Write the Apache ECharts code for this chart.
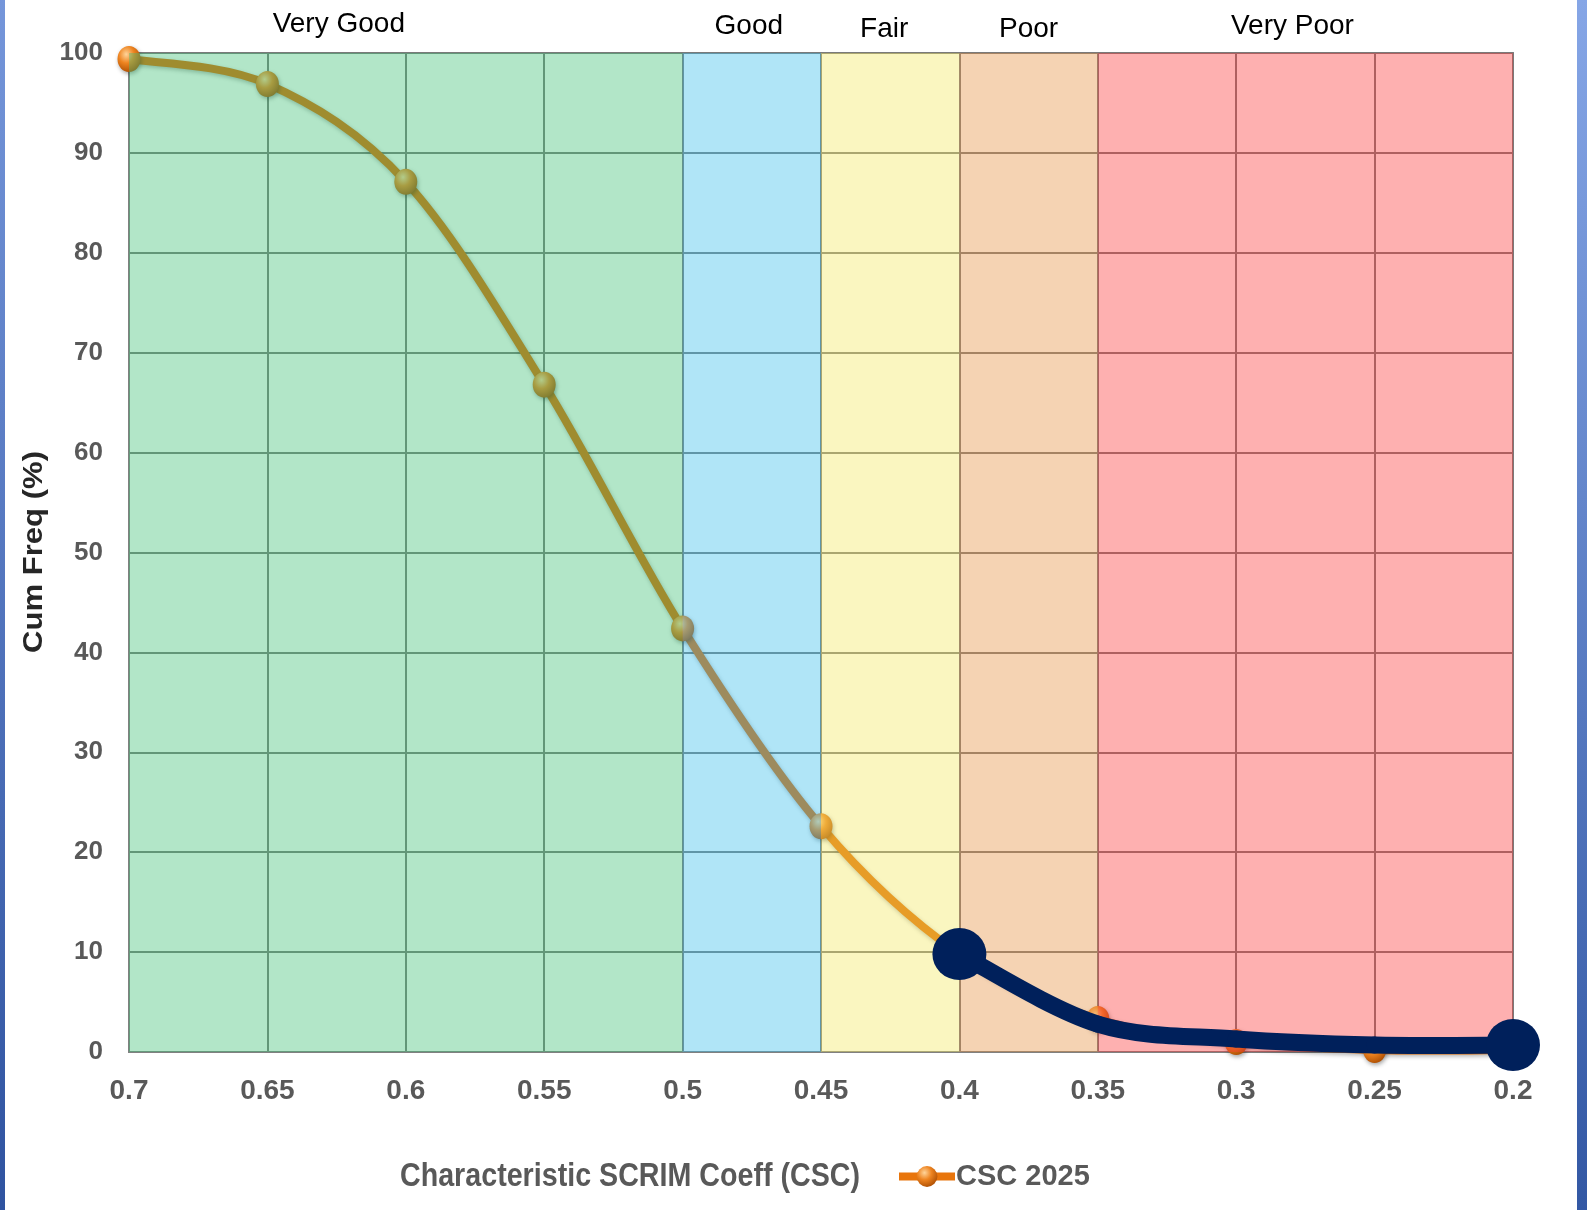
<!DOCTYPE html>
<html>
<head>
<meta charset="utf-8">
<script src="https://cdn.jsdelivr.net/npm/echarts@6/dist/echarts.min.js"></script>
<style>
html,body{margin:0;padding:0;background:#fff;}
#chart{width:1587px;height:1210px;}
</style>
</head>
<body>
<div id="chart"></div>
<script>
// ---- data ----
const csc = [0.7, 0.65, 0.6, 0.55, 0.5, 0.45, 0.4, 0.35, 0.3, 0.25, 0.2];
const cumFreq2025 = [99.4, 96.9, 87.1, 66.8, 42.4, 22.6, 9.8, 3.3, 1.0, 0.2, 0.2];
const highlightCsc = [0.4, 0.35, 0.3, 0.25, 0.2];
const highlightFreq = [9.8, 2.8, 1.3, 0.7, 0.7];
const bandNames = ['Very Good', 'Good', 'Fair', 'Poor', 'Very Poor'];
const bandEdges = [0.7, 0.5, 0.45, 0.4, 0.35, 0.2];
const yTicks = [0, 10, 20, 30, 40, 50, 60, 70, 80, 90, 100];
const seriesName = 'CSC 2025';
const xTitle = 'Characteristic SCRIM Coeff (CSC)';
const yTitle = 'Cum Freq (%)';

// ---- styling ----
const bandColors = ['rgba(62,192,117,0.4)', 'rgba(57,190,235,0.4)', 'rgba(242,232,97,0.4)', 'rgba(230,145,65,0.4)', 'rgba(252,57,57,0.4)'];
const bandLabelOffsets = [[-67, -3], [-3, -1], [-6, 2], [0, 2], [-13, -1]];
const lineColor = '#e06a00';
const navy = '#00205b';

const sphere = {
  type: 'radial', x: 0.38, y: 0.32, r: 0.75,
  colorStops: [
    { offset: 0, color: '#ffd49a' },
    { offset: 0.45, color: '#ee8420' },
    { offset: 1, color: '#a84a00' }
  ]
};

const mainData = csc.map((x, i) => [x, cumFreq2025[i]]);
const hlPoints = highlightCsc.map((x, i) => [x, highlightFreq[i]]);
const hlData = highlightCsc.map((x, i) => {
  const end = (i === 0 || i === highlightCsc.length - 1);
  return end ? { value: [x, highlightFreq[i]], symbol: 'circle', symbolSize: [54, 52] }
             : { value: [x, highlightFreq[i]], symbol: 'none' };
});

// smooth curve (Excel-like Catmull-Rom) through the data, positioned via the axes
function makeSmooth(xs, ys, style) {
  return function (params, api) {
    const i = params.dataIndex;
    const n = xs.length;
    if (i >= n - 1) return null;
    const P = k => { const j = Math.max(0, Math.min(n - 1, k)); return api.coord([xs[j], ys[j]]); };
    const p0 = P(i - 1), p1 = P(i), p2 = P(i + 1), p3 = P(i + 2);
    const t = 1 / 6;
    return {
      type: 'bezierCurve',
      shape: {
        x1: p1[0], y1: p1[1], x2: p2[0], y2: p2[1],
        cpx1: p1[0] + (p2[0] - p0[0]) * t, cpy1: p1[1] + (p2[1] - p0[1]) * t,
        cpx2: p2[0] - (p3[0] - p1[0]) * t, cpy2: p2[1] - (p3[1] - p1[1]) * t
      },
      style: Object.assign({ fill: null, lineCap: 'round' }, style)
    };
  };
}

const areas = bandNames.map((n, i) => [
  {
    name: n,
    xAxis: bandEdges[i],
    itemStyle: { color: bandColors[i] },
    label: {
      show: true, position: 'top', distance: 12,
      offset: bandLabelOffsets[i],
      color: '#000', fontSize: 28, fontFamily: 'Liberation Sans, Arial, sans-serif'
    }
  },
  { xAxis: bandEdges[i + 1] }
]);

// measure titles to compress/stretch them like the reference
const mc = document.createElement('canvas').getContext('2d');
const titleFont = 'bold 33px "Liberation Sans", Arial, sans-serif';
mc.font = titleFont;
const titleScale = 460 / mc.measureText(xTitle).width;
const yTitleFont = 'bold 28px "Liberation Sans", Arial, sans-serif';
mc.font = yTitleFont;
const yTitleScale = 202 / mc.measureText(yTitle).width;

const chart = echarts.init(document.getElementById('chart'), null, { renderer: 'canvas' });
chart.setOption({
  animation: false,
  backgroundColor: '#fff',
  grid: {
    left: 129, right: 74, top: 53, height: 999,
    show: true, borderColor: '#808080', borderWidth: 2, backgroundColor: 'transparent'
  },
  xAxis: {
    type: 'value', inverse: true, min: 0.2, max: 0.7, interval: 0.05,
    axisLine: { show: true, lineStyle: { color: '#808080', width: 2 } },
    axisTick: { show: false },
    splitLine: { show: true, lineStyle: { color: '#7a7a7a', width: 2 } },
    axisLabel: {
      margin: 25, color: '#595959', fontSize: 28, fontWeight: 'bold',
      fontFamily: 'Liberation Sans, Arial, sans-serif',
      formatter: v => String(+v.toFixed(2))
    }
  },
  yAxis: {
    type: 'value', min: yTicks[0], max: yTicks[yTicks.length - 1], interval: 10,
    axisLine: { show: true, lineStyle: { color: '#808080', width: 2 } },
    axisTick: { show: false },
    splitLine: { show: true, lineStyle: { color: '#7a7a7a', width: 2 } },
    axisLabel: {
      margin: 26, color: '#595959', fontSize: 26, fontWeight: 'bold',
      fontFamily: 'Liberation Sans, Arial, sans-serif'
    }
  },
  legend: {
    data: [seriesName],
    left: 890, top: 1157,
    itemWidth: 56, itemHeight: 26, itemGap: 10,
    lineStyle: { width: 8, color: '#e8750c', opacity: 1 },
    textStyle: { color: '#595959', fontSize: 29, fontWeight: 'bold', fontFamily: 'Liberation Sans, Arial, sans-serif', padding: [0, 0, 0, -4] }
  },
  graphic: [
    {
      type: 'rect', left: 0, top: 0, z: 100,
      shape: { width: 5, height: 1210 },
      style: { fill: new echarts.graphic.LinearGradient(0, 0, 0, 1, [{ offset: 0, color: '#7596da' }, { offset: 1, color: '#2f53a0' }]) }
    },
    {
      type: 'rect', left: 1577, top: 0, z: 100,
      shape: { width: 10, height: 1210 },
      style: { fill: new echarts.graphic.LinearGradient(0, 0, 0, 1, [{ offset: 0, color: '#86a6e6' }, { offset: 1, color: '#3358a4' }]) }
    },
    {
      type: 'text', x: 400, y: 1177, scaleX: titleScale, z: 100,
      style: { text: xTitle, font: titleFont, fill: '#595959', verticalAlign: 'middle', align: 'left' }
    },
    {
      type: 'text', x: 34, y: 552, rotation: Math.PI / 2, scaleX: yTitleScale, z: 100,
      style: { text: yTitle, font: yTitleFont, fill: '#262626', align: 'center', verticalAlign: 'middle' }
    }
  ],
  series: [
    {
      name: 'curve', type: 'custom', z: 2, silent: true,
      data: mainData, encode: { x: 0, y: 1 }, clip: false,
      renderItem: makeSmooth(csc, cumFreq2025, {
        stroke: lineColor, lineWidth: 8,
        shadowBlur: 4, shadowColor: 'rgba(0,0,0,0.3)', shadowOffsetX: 1, shadowOffsetY: 2
      })
    },
    {
      name: seriesName, type: 'line', z: 2,
      data: mainData,
      symbol: 'circle', symbolSize: [23, 26],
      lineStyle: { color: lineColor, width: 8, opacity: 0 },
      itemStyle: { color: sphere, shadowBlur: 4, shadowColor: 'rgba(0,0,0,0.35)', shadowOffsetX: 1, shadowOffsetY: 2 }
    },
    {
      name: 'bands', type: 'line', z: 3, data: [], silent: true,
      markArea: { silent: true, z: 3, data: areas }
    },
    {
      name: 'highlightCurve', type: 'custom', z: 4, silent: true,
      data: hlPoints, encode: { x: 0, y: 1 }, clip: false,
      renderItem: makeSmooth(highlightCsc, highlightFreq, { stroke: navy, lineWidth: 17 })
    },
    {
      name: 'highlight', type: 'line', z: 4,
      data: hlData, showAllSymbol: true,
      lineStyle: { opacity: 0 },
      itemStyle: { color: navy }
    }
  ]
});
</script>
</body>
</html>
